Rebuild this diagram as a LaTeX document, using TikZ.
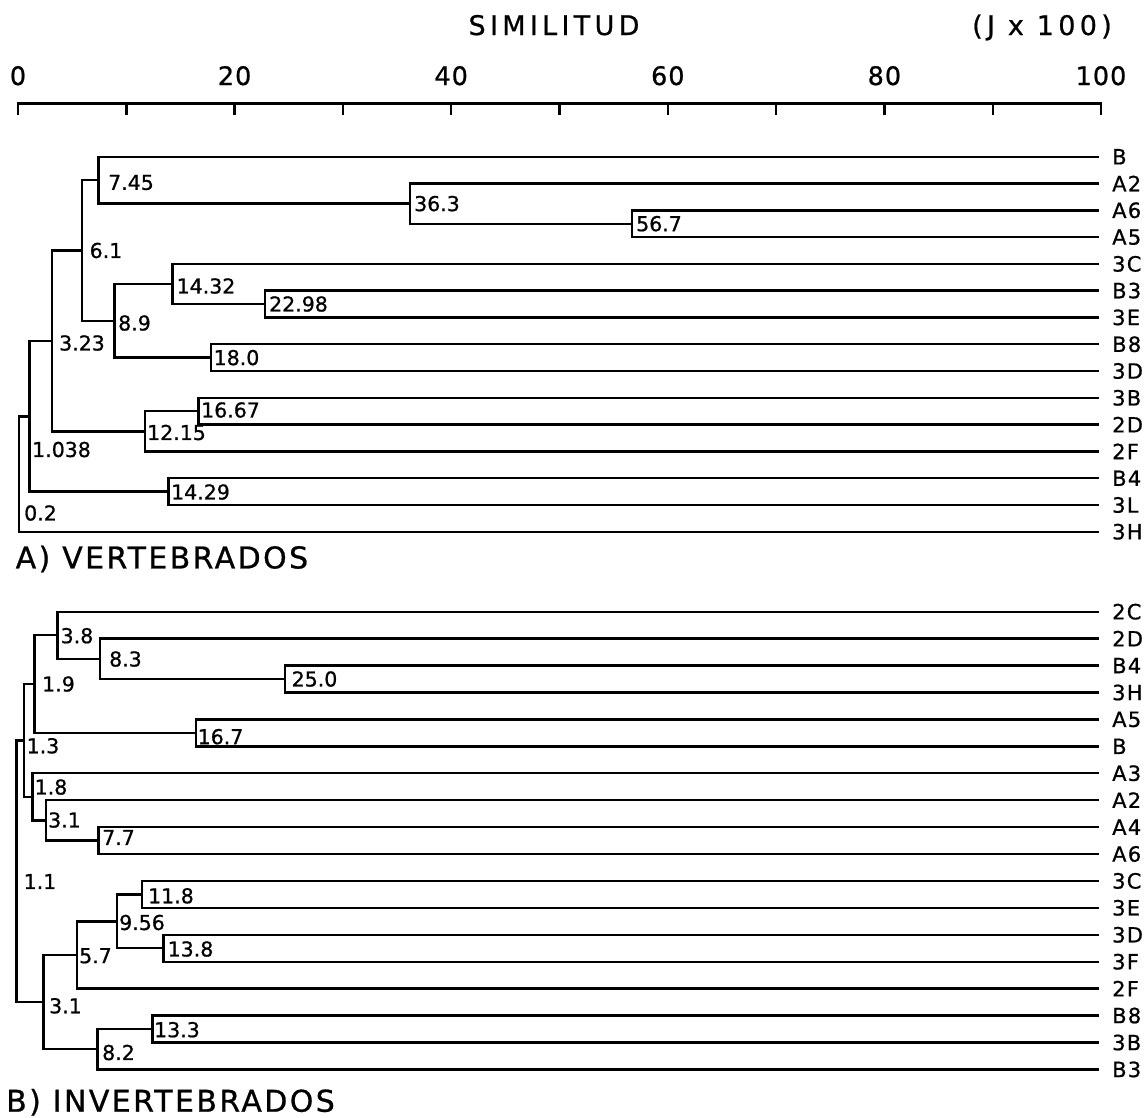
\documentclass[tikz,border=0pt]{standalone}
\usepackage{fontspec}
\setmainfont{DejaVu Sans}
\newfontfamily\valfont[FakeBold=0.8]{DejaVu Sans}
\newfontfamily\leaffont[LetterSpace=6,FakeBold=0.8]{DejaVu Sans}
\newfontfamily\titlefont[LetterSpace=16,FakeBold=0.8]{DejaVu Sans}
\newfontfamily\secfont[LetterSpace=8,FakeBold=0.8]{DejaVu Sans}
\newfontfamily\tickfont[LetterSpace=4,FakeBold=0.8]{DejaVu Sans}
\newcommand\dbr[3]{\draw[tree] (#2) -- (#1 |- #2) -- (#1 |- #3) -- (#3);}
\begin{document}
\begin{tikzpicture}[x=1pt,y=-1pt,
  tree/.style={line width=2.4pt, line join=miter},
  axisline/.style={line width=2.4pt},
  val/.style={anchor=west, inner sep=0pt, font=\valfont\fontsize{20.5}{20.5}\selectfont},
  leaf/.style={anchor=west, inner xsep=13pt, inner ysep=0pt, font=\leaffont\fontsize{21}{21}\selectfont},
  ticklab/.style={anchor=base, inner sep=0pt, font=\tickfont\fontsize{25.5}{25.5}\selectfont},
  title/.style={anchor=base, inner sep=0pt, font=\titlefont\fontsize{27}{27}\selectfont},
  sec/.style={anchor=base west, inner sep=0pt, font=\secfont\fontsize{30}{30}\selectfont}]
\useasboundingbox (0,0) rectangle (1147,1117);

% ---------- title and axis ----------
\node[title] (ttl) at (554,35) {SIMILITUD};
\node[title] (unit) at (1042,35) {(J x 100)};
\coordinate (ax0) at (18,103.3);
\coordinate (ax100) at (1101,103.3);
\draw[axisline] ([yshift=-11.7]ax0) -- (ax0) -- (ax100) -- ([yshift=-11.7]ax100);
\foreach \i in {1,...,9}{\draw[axisline] (18+108.3*\i,103.3) -- (18+108.3*\i,115);}
\foreach \v/\i in {0/0,20/2,40/4,60/6,80/8,100/10}{\node[ticklab] (tl\v) at (18+108.3*\i,85) {\v};}

% ---------- A) vertebrados ----------
\node[leaf] (aB)  at (1099,156.7) {B};
\node[leaf] (aA2) at (1099,183.5) {A2};
\node[leaf] (aA6) at (1099,210.3) {A6};
\node[leaf] (aA5) at (1099,237.1) {A5};
\node[leaf] (a3C) at (1099,263.9) {3C};
\node[leaf] (aB3) at (1099,290.6) {B3};
\node[leaf] (a3E) at (1099,317.4) {3E};
\node[leaf] (aB8) at (1099,344.2) {B8};
\node[leaf] (a3D) at (1099,371.0) {3D};
\node[leaf] (a3B) at (1099,397.8) {3B};
\node[leaf] (a2D) at (1099,424.6) {2D};
\node[leaf] (a2F) at (1099,451.4) {2F};
\node[leaf] (aB4) at (1099,478.2) {B4};
\node[leaf] (a3L) at (1099,505.0) {3L};
\node[leaf] (a3H) at (1099,531.7) {3H};

\coordinate (jA567) at (632,223.7);    \dbr{jA567}{aA6.west}{aA5.west}
\coordinate (jA363) at (410,203.6);    \dbr{jA363}{aA2.west}{jA567}
\coordinate (jA745) at (98.3,180.2);   \dbr{jA745}{aB.west}{jA363}
\coordinate (jA2298) at (265,304.0);   \dbr{jA2298}{aB3.west}{a3E.west}
\coordinate (jA1432) at (172.3,284.0); \dbr{jA1432}{a3C.west}{jA2298}
\coordinate (jA180) at (210.7,357.6);  \dbr{jA180}{aB8.west}{a3D.west}
\coordinate (jA89) at (114.3,320.8);   \dbr{jA89}{jA1432}{jA180}
\coordinate (jA61) at (81.7,250.5);    \dbr{jA61}{jA745}{jA89}
\coordinate (jA1667) at (198.3,411.2); \dbr{jA1667}{a3B.west}{a2D.west}
\coordinate (jA1215) at (145,431.3);   \dbr{jA1215}{jA1667}{a2F.west}
\coordinate (jA323) at (52,340.9);     \dbr{jA323}{jA61}{jA1215}
\coordinate (jA1429) at (168.3,491.6); \dbr{jA1429}{aB4.west}{a3L.west}
\coordinate (jA1038) at (29.5,416.3);  \dbr{jA1038}{jA323}{jA1429}
\coordinate (jA02) at (19,474);        \dbr{jA02}{jA1038}{a3H.west}

\node[val] (vA745)  at (108,182.5)   {7.45};
\node[val] (vA363)  at (414,203.6)   {36.3};
\node[val] (vA567)  at (636,223.7)   {56.7};
\node[val] (vA61)   at (89.5,250.5)  {6.1};
\node[val] (vA1432) at (176.5,286)   {14.32};
\node[val] (vA2298) at (269,304)     {22.98};
\node[val] (vA89)   at (118,323)     {8.9};
\node[val] (vA180)  at (213.5,357.6) {18.0};
\node[val] (vA323)  at (59,343)      {3.23};
\node[val] (vA1667) at (201,410)     {16.67};
\node[val] (vA1215) at (147,432.5)   {12.15};
\node[val] (vA1429) at (171,492)     {14.29};
\node[val] (vA1038) at (32,449.5)    {1.038};
\node[val] (vA02)   at (24,513)      {0.2};

\node[sec] (secA) at (15.5,568.4) {A) VERTEBRADOS};

% ---------- B) invertebrados ----------
\node[leaf] (b2C) at (1099,611.7)  {2C};
\node[leaf] (b2D) at (1099,638.6)  {2D};
\node[leaf] (bB4) at (1099,665.5)  {B4};
\node[leaf] (b3H) at (1099,692.5)  {3H};
\node[leaf] (bA5) at (1099,719.4)  {A5};
\node[leaf] (bB)  at (1099,746.3)  {B};
\node[leaf] (bA3) at (1099,773.2)  {A3};
\node[leaf] (bA2) at (1099,800.1)  {A2};
\node[leaf] (bA4) at (1099,827.1)  {A4};
\node[leaf] (bA6) at (1099,854.0)  {A6};
\node[leaf] (b3C) at (1099,880.9)  {3C};
\node[leaf] (b3E) at (1099,907.8)  {3E};
\node[leaf] (b3D) at (1099,934.8)  {3D};
\node[leaf] (b3F) at (1099,961.7)  {3F};
\node[leaf] (b2F) at (1099,988.6)  {2F};
\node[leaf] (bB8) at (1099,1015.5) {B8};
\node[leaf] (b3B) at (1099,1042.5) {3B};
\node[leaf] (bB3) at (1099,1069.4) {B3};

\coordinate (jB250) at (285,679.0);    \dbr{jB250}{bB4.west}{b3H.west}
\coordinate (jB83) at (100,658.8);     \dbr{jB83}{b2D.west}{jB250}
\coordinate (jB38) at (57.3,635.2);    \dbr{jB38}{b2C.west}{jB83}
\coordinate (jB167) at (196,732.9);    \dbr{jB167}{bA5.west}{bB.west}
\coordinate (jB19) at (34.3,684.0);    \dbr{jB19}{jB38}{jB167}
\coordinate (jB77) at (98.3,840.5);    \dbr{jB77}{bA4.west}{bA6.west}
\coordinate (jB31a) at (45.7,820.3);   \dbr{jB31a}{bA2.west}{jB77}
\coordinate (jB18) at (32.3,796.8);    \dbr{jB18}{bA3.west}{jB31a}
\coordinate (jB13) at (24,740.4);      \dbr{jB13}{jB19}{jB18}
\coordinate (jB118) at (141.7,894.4);  \dbr{jB118}{b3C.west}{b3E.west}
\coordinate (jB138) at (163.3,948.2);  \dbr{jB138}{b3D.west}{b3F.west}
\coordinate (jB956) at (116.7,921.3);  \dbr{jB956}{jB118}{jB138}
\coordinate (jB57) at (76.7,955.0);    \dbr{jB57}{jB956}{b2F.west}
\coordinate (jB133) at (152.3,1029.0); \dbr{jB133}{bB8.west}{b3B.west}
\coordinate (jB82) at (97.3,1049.2);   \dbr{jB82}{jB133}{bB3.west}
\coordinate (jB31b) at (43.3,1002.1);  \dbr{jB31b}{jB57}{jB82}
\coordinate (jB11) at (16.5,871.3);    \dbr{jB11}{jB13}{jB31b}

\node[val] (vB38)  at (60.5,635.7)  {3.8};
\node[val] (vB83)  at (109,659)     {8.3};
\node[val] (vB250) at (291.5,679)   {25.0};
\node[val] (vB19)  at (42,684)      {1.9};
\node[val] (vB167) at (197.5,736.7) {16.7};
\node[val] (vB13)  at (26.5,745.8)  {1.3};
\node[val] (vB18)  at (34.5,787)    {1.8};
\node[val] (vB31a) at (48,820)      {3.1};
\node[val] (vB77)  at (102,837.5)   {7.7};
\node[val] (vB11)  at (23.5,881.5)  {1.1};
\node[val] (vB118) at (148,895.8)   {11.8};
\node[val] (vB956) at (119,922.5)   {9.56};
\node[val] (vB138) at (167.5,949)   {13.8};
\node[val] (vB57)  at (79,955.8)    {5.7};
\node[val] (vB31b) at (49,1005.8)   {3.1};
\node[val] (vB133) at (154,1029.7)  {13.3};
\node[val] (vB82)  at (102,1052.5)  {8.2};

\node[sec] (secB) at (6,1111.7) {B) INVERTEBRADOS};
\end{tikzpicture}
\end{document}
